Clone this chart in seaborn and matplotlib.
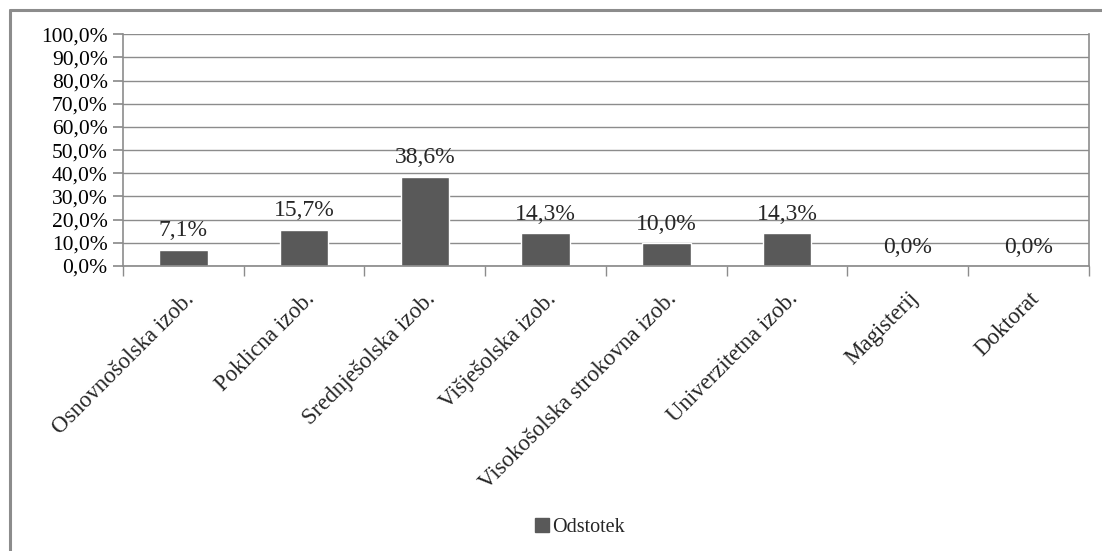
import numpy as np
import pandas as pd
import matplotlib
matplotlib.use("Agg")
import matplotlib.pyplot as plt
import seaborn as sns
from matplotlib.lines import Line2D
from matplotlib.ticker import MultipleLocator, FuncFormatter

# ==========================================================
# Data
# ==========================================================

kategorije = [
    "Osnovnošolska izob.",
    "Poklicna izob.",
    "Srednješolska izob.",
    "Višješolska izob.",
    "Visokošolska strokovna izob.",
    "Univerzitetna izob.",
    "Magisterij",
    "Doktorat",
]
odstotki = [7.1, 15.7, 38.6, 14.3, 10.0, 14.3, 0.0, 0.0]
serija = "Odstotek"

df = pd.DataFrame({
    "kategorija": kategorije,
    "odstotek": odstotki,
    "serija": [serija] * len(kategorije),
})

# ==========================================================
# Style
# ==========================================================

sns.set_theme(style="white")
plt.rcParams["font.family"] = ["Liberation Serif", "DejaVu Serif"]

BAR = "#595959"
GRID = "#8c8c8c"

fig = plt.figure(figsize=(11.02, 5.51), dpi=100)
ax = fig.add_axes([0.1116, 0.5172, 0.8766, 0.4208])

sns.barplot(
    data=df,
    x="kategorija",
    y="odstotek",
    hue="serija",
    palette=[BAR],
    width=0.4,
    dodge=False,
    legend=False,
    ax=ax,
)

# ==========================================================
# Axes
# ==========================================================

ax.set_ylim(0, 100)
ax.set_xlim(-0.5, len(kategorije) - 0.5)
ax.yaxis.set_major_locator(MultipleLocator(10))
ax.yaxis.set_major_formatter(
    FuncFormatter(lambda v, p: f"{v:.1f}%".replace(".", ","))
)
ax.grid(axis="y", color=GRID, linewidth=1)
ax.set_axisbelow(True)

for s in ["left", "right"]:
    ax.spines[s].set_color(GRID)
    ax.spines[s].set_linewidth(1.2)
ax.spines["top"].set_visible(False)
ax.spines["bottom"].set_color(GRID)

ax.tick_params(axis="y", left=True, length=7, color=GRID, labelsize=15.5,
               labelcolor="black", pad=4)

# x ticks at category boundaries
ax.set_xticks(np.arange(len(kategorije)))
ax.set_xticklabels(kategorije, rotation=45, ha="right",
                   rotation_mode="anchor", fontsize=16.5)
ax.tick_params(axis="x", bottom=False, pad=10)
ax.set_xticks(np.arange(len(kategorije) + 1) - 0.5, minor=True)
ax.tick_params(axis="x", which="minor", bottom=True, length=7,
               color=GRID, width=1)

ax.set_xlabel("")
ax.set_ylabel("")

# data labels
for cont in ax.containers:
    ax.bar_label(cont, labels=[f"{v:.1f}%".replace(".", ",") for v in odstotki],
                 padding=6, fontsize=17)

# ==========================================================
# Legend & outer frame
# ==========================================================

handle = Line2D([], [], marker="s", linestyle="", color=BAR, markersize=10)
fig.legend([handle], [serija], loc="center", bbox_to_anchor=(0.525, 0.043),
           frameon=False, fontsize=14.5, handletextpad=0.0,
           handlelength=1.0)

fig.add_artist(Line2D([10 / 1102, 1.0], [1 - 10 / 551, 1 - 10 / 551],
                      color="#8c8c8c", linewidth=2.2, transform=fig.transFigure))
fig.add_artist(Line2D([10 / 1102, 10 / 1102], [0.0, 1 - 10 / 551],
                      color="#8c8c8c", linewidth=2.2, transform=fig.transFigure))

fig.savefig("out.png", dpi=100)
